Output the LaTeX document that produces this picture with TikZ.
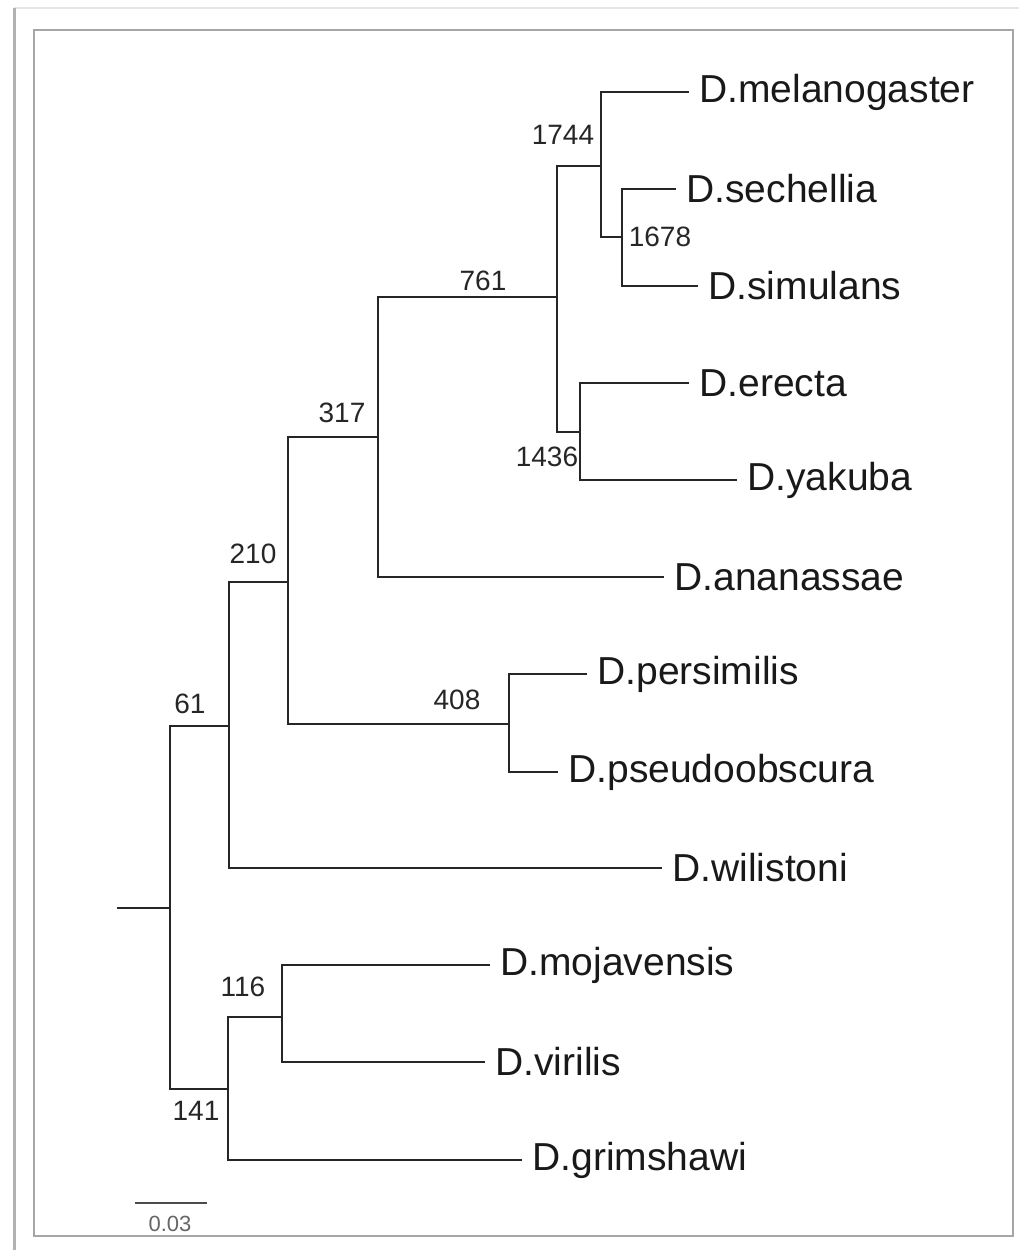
\documentclass[tikz,border=0pt]{standalone}
\usepackage{fontspec}
\setmainfont{Liberation Sans}
\begin{document}
\begin{tikzpicture}[x=0.5pt,y=-0.5pt,
  branch/.style={draw=black!85, line width=1.35pt, line cap=rect},
  tip/.style={anchor=west, inner xsep=5.5pt, inner ysep=0pt, text=black!90,
    font=\fontsize{19.5}{22}\selectfont},
  support/.style={inner sep=0pt, text=black!85, font=\fontsize{14}{16}\selectfont},
  frameline/.style={draw=black!35, line width=1pt}]
\useasboundingbox (0,0) rectangle (1019,1250);
\fill[white] (0,0) rectangle (1019,1250);

% page edges and plot frame
\draw[draw=black!10, line width=1pt] (14,8) -- (1019,8);
\draw[draw=black!30, line width=1.5pt] (14,8) -- (14,1250);
\draw[frameline] (34,30) rectangle (1013,1236);

% internal nodes (x = depth, y = where the parent branch joins)
\coordinate (root) at (118,908);
\coordinate (a) at (170,908);
\coordinate (b) at (229,726);
\coordinate (c) at (288,582);
\coordinate (d) at (378,437);
\coordinate (e) at (557,297);
\coordinate (f) at (601,166);
\coordinate (g) at (622,237);
\coordinate (h) at (580,432);
\coordinate (i) at (509,724);
\coordinate (j) at (228,1089);
\coordinate (k) at (282,1017);

% leaves
\node[tip] (mel)  at (688,92)   {D.melanogaster};
\node[tip] (sec)  at (675,189)  {D.sechellia};
\node[tip] (sim)  at (697,286)  {D.simulans};
\node[tip] (ere)  at (688,383)  {D.erecta};
\node[tip] (yak)  at (736,480)  {D.yakuba};
\node[tip] (ana)  at (663,577)  {D.ananassae};
\node[tip] (per)  at (586,674)  {D.persimilis};
\node[tip] (pse)  at (557,772)  {D.pseudoobscura};
\node[tip] (wil)  at (661,868)  {D.wilistoni};
\node[tip] (moj)  at (489,965)  {D.mojavensis};
\node[tip] (vir)  at (484,1062) {D.virilis};
\node[tip] (gri)  at (521,1160) {D.grimshawi};

% branches
\draw[branch] (root) -- (a);
\draw[branch] (b) -| (a) |- (j);
\draw[branch] (c) -| (b) |- (wil.west);
\draw[branch] (d) -| (c) |- (i);
\draw[branch] (e) -| (d) |- (ana.west);
\draw[branch] (f) -| (e) |- (h);
\draw[branch] (mel.west) -| (f) |- (g);
\draw[branch] (sec.west) -| (g) |- (sim.west);
\draw[branch] (ere.west) -| (h) |- (yak.west);
\draw[branch] (per.west) -| (i) |- (pse.west);
\draw[branch] (k) -| (j) |- (gri.west);
\draw[branch] (moj.west) -| (k) |- (vir.west);

% bootstrap support values
\node[support] (s1744) at (563,135)  {1744};
\node[support] (s1678) at (660,237)  {1678};
\node[support] (s761)  at (483,281)  {761};
\node[support] (s317)  at (342,413)  {317};
\node[support] (s210)  at (253,554)  {210};
\node[support] (s61)   at (190,704)  {61};
\node[support] (s408)  at (457,700)  {408};
\node[support] (s1436) at (547,457)  {1436};
\node[support] (s116)  at (243,987)  {116};
\node[support] (s141)  at (196,1111) {141};

% scale bar
\coordinate (sbl) at (135,1203);
\coordinate (sbr) at (207,1203);
\draw[draw=black!70, line width=1.1pt] (sbl) -- (sbr);
\node[inner sep=0pt, text=black!60, font=\fontsize{11}{12}\selectfont] (sblab) at (170,1224) {0.03};
\end{tikzpicture}
\end{document}
